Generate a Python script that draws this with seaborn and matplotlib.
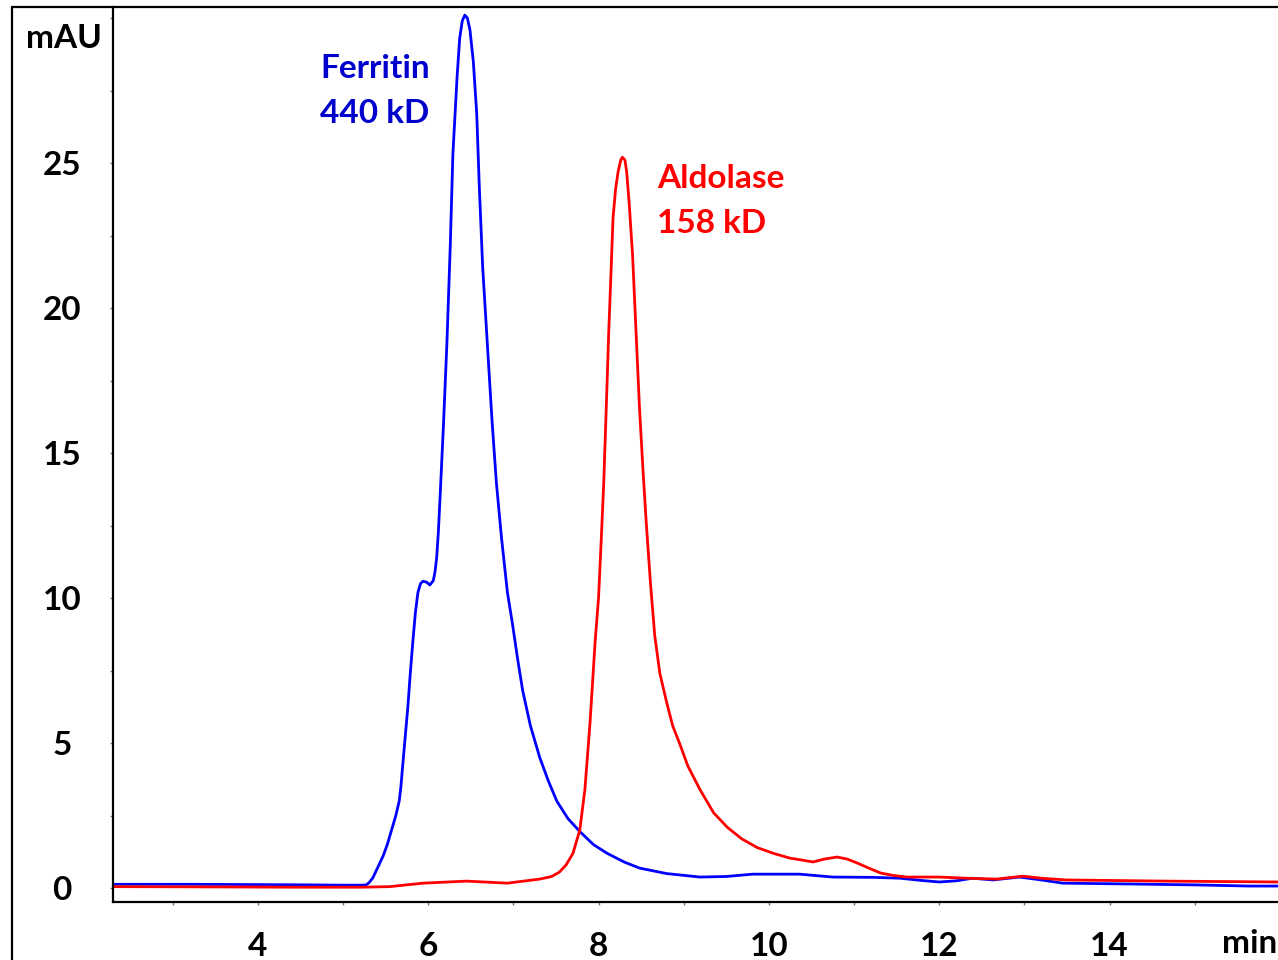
import numpy as np
import pandas as pd
import matplotlib
matplotlib.use("Agg")
import matplotlib.pyplot as plt
from matplotlib.lines import Line2D
from matplotlib.ticker import MultipleLocator
import seaborn as sns

# Retention time (min) and absorbance (mAU) for each standard
ferritin_time = [2.30, 3.20, 4.00, 4.60, 5.00, 5.24, 5.28, 5.31, 5.35, 5.39, 5.43,
                 5.47, 5.52, 5.57, 5.62, 5.66, 5.68, 5.70, 5.73, 5.76, 5.79, 5.82,
                 5.85, 5.88, 5.91, 5.94, 5.98, 6.02, 6.06, 6.08, 6.10, 6.12, 6.14,
                 6.18, 6.22, 6.26, 6.29, 6.34, 6.37, 6.40, 6.43, 6.46, 6.49, 6.53,
                 6.57, 6.60, 6.64, 6.70, 6.75, 6.80, 6.86, 6.93, 6.99, 7.05, 7.11,
                 7.20, 7.31, 7.41, 7.51, 7.64, 7.78, 7.94, 8.10, 8.30, 8.48, 8.80,
                 9.19, 9.50, 9.81, 10.36, 10.75, 11.22, 11.54, 11.80, 12.00, 12.20,
                 12.39, 12.63, 12.94, 13.20, 13.45, 14.27, 15.00, 15.64, 16.00]
ferritin_mau = [0.13, 0.13, 0.12, 0.11, 0.10, 0.10, 0.12, 0.20, 0.35, 0.60, 0.85,
                1.10, 1.50, 2.00, 2.50, 3.00, 3.50, 4.20, 5.20, 6.20, 7.40, 8.50,
                9.50, 10.20, 10.50, 10.58, 10.55, 10.45, 10.60, 10.90, 11.40, 12.30, 13.50,
                16.00, 18.80, 22.20, 25.30, 28.00, 29.30, 29.90, 30.10, 30.00, 29.60, 28.50,
                26.70, 24.20, 21.40, 18.50, 16.10, 14.00, 12.10, 10.20, 9.10, 7.90, 6.80,
                5.60, 4.50, 3.70, 3.00, 2.40, 1.95, 1.50, 1.20, 0.90, 0.69, 0.50,
                0.38, 0.40, 0.48, 0.48, 0.38, 0.37, 0.34, 0.26, 0.21, 0.25,
                0.34, 0.28, 0.38, 0.28, 0.17, 0.14, 0.11, 0.07, 0.07]

aldolase_time = [2.30, 3.50, 4.50, 5.20, 5.55, 5.94, 6.45, 6.93, 7.31, 7.45, 7.54,
                 7.62, 7.70, 7.78, 7.84, 7.90, 7.96, 8.00, 8.03, 8.06, 8.09, 8.12,
                 8.15, 8.17, 8.20, 8.23, 8.26, 8.28, 8.31, 8.33, 8.36, 8.40, 8.44,
                 8.48, 8.52, 8.56, 8.61, 8.66, 8.72, 8.80, 8.87, 8.95, 9.05, 9.19,
                 9.35, 9.51, 9.68, 9.86, 10.05, 10.25, 10.40, 10.52, 10.65, 10.80,
                 10.92, 11.04, 11.18, 11.31, 11.45, 11.62, 12.00, 12.32, 12.67, 12.98,
                 13.20, 13.49, 14.67, 16.00]
aldolase_mau = [0.05, 0.04, 0.03, 0.03, 0.05, 0.17, 0.24, 0.17, 0.31, 0.40, 0.55,
                0.80, 1.20, 2.00, 3.40, 5.70, 8.50, 10.00, 11.90, 13.90, 16.50, 19.20,
                21.50, 23.10, 24.10, 24.70, 25.10, 25.20, 25.10, 24.70, 23.60, 21.80, 19.20,
                16.60, 14.50, 12.60, 10.50, 8.70, 7.40, 6.40, 5.60, 5.00, 4.20, 3.40,
                2.60, 2.10, 1.70, 1.40, 1.20, 1.03, 0.96, 0.90, 1.00, 1.07,
                1.00, 0.86, 0.68, 0.52, 0.44, 0.38, 0.38, 0.34, 0.31, 0.41,
                0.34, 0.28, 0.24, 0.21]

y_ticks = [0, 5, 10, 15, 20, 25]
x_ticks = [4, 6, 8, 10, 12, 14]

traces = pd.concat([
    pd.DataFrame({"time": ferritin_time, "mAU": ferritin_mau, "protein": "Ferritin"}),
    pd.DataFrame({"time": aldolase_time, "mAU": aldolase_mau, "protein": "Aldolase"}),
], ignore_index=True)

sns.set_theme(style="white")
plt.rcParams["font.family"] = ["Lato", "DejaVu Sans"]
plt.rcParams["font.weight"] = "bold"

W, H = 1278, 960
FS = 24
fig = plt.figure(figsize=(W / 100, H / 100), dpi=100)
ax_left, ax_right, ax_top, ax_bottom = 113, 1280, 7, 902
ax = fig.add_axes([ax_left / W, (H - ax_bottom) / H,
                   (ax_right - ax_left) / W, (ax_bottom - ax_top) / H])

sns.lineplot(data=traces, x="time", y="mAU", hue="protein",
             palette={"Ferritin": "#0000FF", "Aldolase": "#FF0000"},
             estimator=None, sort=False, linewidth=2.0, legend=False, ax=ax)

ax.set_xlim(2.3, 16.0)
ax.set_ylim(-0.48, 30.38)
ax.set_xlabel("")
ax.set_ylabel("")

ax.xaxis.set_minor_locator(MultipleLocator(1))
ax.yaxis.set_minor_locator(MultipleLocator(2.5))
ax.set_xticks(x_ticks)
ax.set_xticklabels([str(v) for v in x_ticks])
ax.set_yticks(y_ticks)
ax.set_yticklabels([str(v) for v in y_ticks])

ax.tick_params(axis="both", which="both", direction="out", length=2.5, width=1.0,
               color="#777777", labelsize=FS, labelcolor="black")
ax.tick_params(axis="both", which="both", bottom=True, left=True)
ax.tick_params(axis="x", which="major", pad=19)
ax.tick_params(axis="y", which="major", pad=34)
for lbl in ax.get_yticklabels():
    lbl.set_horizontalalignment("center")
for lbl in ax.get_xticklabels() + ax.get_yticklabels():
    lbl.set_fontweight("bold")

for side in ("top", "right"):
    ax.spines[side].set_visible(False)
for side in ("left", "bottom"):
    ax.spines[side].set_color("black")
    ax.spines[side].set_linewidth(1.6)

# Peak annotations
ax.text(4.73, 27.93, "Ferritin", color="#0000CC", fontsize=FS, fontweight="bold",
        ha="left", va="baseline")
ax.text(4.73, 26.38, "440 kD", color="#0000CC", fontsize=FS, fontweight="bold",
        ha="left", va="baseline")
ax.text(8.69, 24.14, "Aldolase", color="#FF0000", fontsize=FS, fontweight="bold",
        ha="left", va="baseline")
ax.text(8.69, 22.59, "158 kD", color="#FF0000", fontsize=FS, fontweight="bold",
        ha="left", va="baseline")

# Axis unit labels
fig.text(64 / W, (H - 48) / H, "mAU", fontsize=FS, fontweight="bold",
         ha="center", va="baseline", color="black")
fig.text(1222 / W, (H - 953) / H, "min", fontsize=FS, fontweight="bold",
         ha="left", va="baseline", color="black")

# Outer frame around the chart
fig.add_artist(Line2D([11.5 / W, 11.5 / W], [0, (H - 6.5) / H],
                      transform=fig.transFigure, color="black", linewidth=1.6))
fig.add_artist(Line2D([11.5 / W, 1.0], [(H - 6.5) / H, (H - 6.5) / H],
                      transform=fig.transFigure, color="black", linewidth=1.6))

fig.savefig("out.png", dpi=100)
